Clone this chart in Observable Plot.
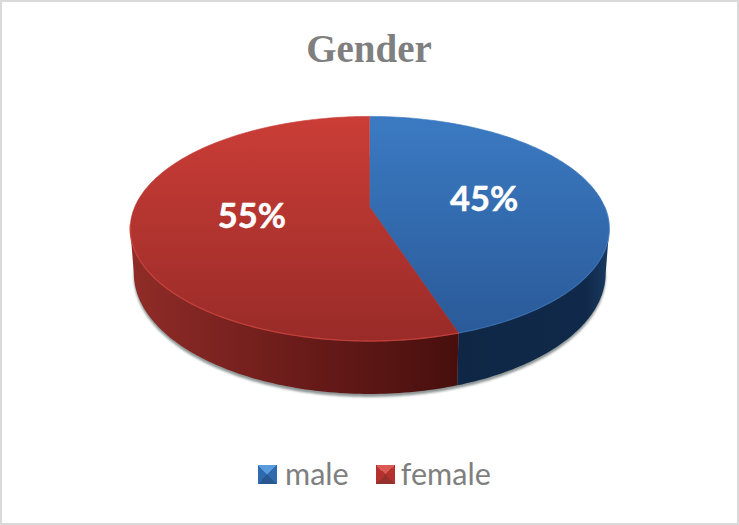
<!DOCTYPE html>
<html>
<head>
<meta charset="utf-8">
<script src="https://cdn.jsdelivr.net/npm/d3@7"></script>
<script src="https://cdn.jsdelivr.net/npm/@observablehq/plot@0.6"></script>
<style>
  html, body { margin: 0; padding: 0; background: #fff; overflow: hidden; }
  #frame { position: relative; width: 739px; height: 525px; box-sizing: border-box; border: 2.5px solid #d9d9d9; background: #fff; }
  #title { position: absolute; left: 0; right: 0; top: 23px; height: 48px; text-align: center;
           font: bold 39px/48px "Liberation Serif", serif; color: #7f7f7f; margin-left: -1px; }
  #chart { position: absolute; left: -2.5px; top: 92.5px; }
  #chart svg { display: block; overflow: visible; }
  #legend { position: absolute; top: 454px; left: 256px; display: flex; align-items: center; font: 30.6px/36px Lato, sans-serif; color: #7f7f7f; }
  #legend .key { width: 19px; height: 19px; display: inline-block; margin-right: 8px; }
  #legend .item { display: flex; align-items: center; margin-right: 27px; }
  #legend .item:last-child .key { margin-right: 6px; }
</style>
</head>
<body>
<div id="frame">
  <div id="title"></div>
  <div id="chart"></div>
  <div id="legend"></div>
</div>
<script>
const titleText = "Gender";
const categories = ["male", "female"];
const shares = [45, 55];
const topLight = ["#3b7ac2", "#cb3d37"];
const topDark = ["#2a5a99", "#992b28"];
const wallStops = [["#0f2745", "#10294a", "#1a3b62"], ["#902c28", "#6b1c1a", "#470f0d"]];
const rimColors = ["#3d7dc4", "#c9423c"];
const rimOpacity = [0.45, 0.8];
const keyColors = [["#5b9bdc", "#2f6aae", "#28588f"], ["#dc5a55", "#b5312d", "#96302c"]];

// Perspective of the disc: k is foreshortening, depth is the wall's height in y units.
const k = 0.191, depth = 0.396, baseScale = 0.985, labelRadius = 0.5, step = Math.PI / 180;
const topPoint = (t, r = 1) => {
  const X = r * Math.sin(t), Z = r * Math.cos(t), w = 1 + k * Z;
  return { x: X / w, y: Z / w };
};
const basePoint = (t) => {
  const X = Math.sin(t), Z = Math.cos(t), w = 1 + k * Z;
  return { x: baseScale * X / w, y: (Z - depth) / w };
};
const arc = (fn, a, b) => {
  const n = Math.max(2, Math.ceil(Math.abs(b - a) / step));
  return d3.range(n + 1).map((i) => fn(a + (b - a) * i / n));
};

const slices = d3.pie().sort(null)(shares);
const tangent = Math.acos(-k);
const wallStart = tangent, wallEnd = 2 * Math.PI - tangent;

const faces = slices.map((s) => [{ x: 0, y: 0 }, ...arc(topPoint, s.startAngle, s.endAngle)]);
const walls = slices.map((s) => {
  const a = Math.max(s.startAngle, wallStart), b = Math.min(s.endAngle, wallEnd);
  return [...arc(topPoint, a, b), ...arc(basePoint, b, a)];
});
const rims = slices.map((s, i) =>
  i === 0 ? arc(topPoint, Math.max(s.startAngle, Math.PI / 2), s.endAngle)
          : arc(topPoint, s.startAngle, Math.min(s.endAngle, 1.45 * Math.PI)));
const shadow = arc(basePoint, 0, 2 * Math.PI);
const labels = slices.map((s, i) => ({ ...topPoint((s.startAngle + s.endAngle) / 2, labelRadius), text: `${shares[i]}%` }));

const defs = () => {
  const d = d3.create("svg:defs");
  d.append("filter").attr("id", "soft").attr("x", "-5%").attr("y", "-10%").attr("width", "110%").attr("height", "120%")
    .append("feGaussianBlur").attr("stdDeviation", 1.3);
  d.append("filter").attr("id", "rim").attr("x", "-5%").attr("y", "-10%").attr("width", "110%").attr("height", "120%")
    .append("feGaussianBlur").attr("stdDeviation", 0.6);
  categories.forEach((_, i) => {
    const f = d.append("linearGradient").attr("id", `face${i}`).attr("x1", 0).attr("y1", 0).attr("x2", 0).attr("y2", 1);
    f.append("stop").attr("offset", "0%").attr("stop-color", topLight[i]);
    f.append("stop").attr("offset", "100%").attr("stop-color", topDark[i]);
    const w = d.append("linearGradient").attr("id", `wall${i}`).attr("x1", 0).attr("y1", 0).attr("x2", 1).attr("y2", 0);
    wallStops[i].forEach((c, j) => w.append("stop").attr("offset", i === 0 ? [0, 0.85, 1][j] : [0, 0.5, 1][j]).attr("stop-color", c));
  });
  return d.node();
};

// Applies an SVG filter to the group that a mark renders.
const filtered = (id) => (index, scales, values, dimensions, context, next) => {
  const g = next(index, scales, values, dimensions, context);
  g.setAttribute("filter", `url(#${id})`);
  return g;
};

const line = (pts, o) => Plot.line(pts, { x: "x", y: "y", curve: "linear", ...o });

const plot = Plot.plot({
  width: 739,
  height: 320,
  margin: 0,
  style: { background: "transparent", overflow: "visible" },
  x: { domain: [-1, 1], range: [370 - 235.6, 370 + 235.6], axis: null },
  y: { domain: [-1, 1], range: [112 + 108.4, 112 - 108.4], axis: null },
  marks: [
    defs,
    line(shadow, { fill: "#6a7474", stroke: "none", fillOpacity: 0.75, dy: 3, render: filtered("soft") }),
    ...walls.map((w, i) => line(w, { fill: `url(#wall${i})`, stroke: "none" })),
    ...faces.map((f, i) => line(f, { fill: `url(#face${i})`, stroke: `url(#face${i})`, strokeWidth: 0.6 })),
    ...rims.map((r, i) => line(r, { stroke: rimColors[i], strokeWidth: 1.4, strokeOpacity: rimOpacity[i], render: filtered("rim") })),
    Plot.text(labels, { x: "x", y: "y", text: "text", fill: "white", stroke: "white", strokeWidth: 0.5, fontSize: 34.5, fontWeight: 700, fontFamily: "Lato, sans-serif", dy: 1.5 })
  ]
});
document.getElementById("chart").append(plot);
document.getElementById("title").textContent = titleText;

const legend = d3.select("#legend");
categories.forEach((c, i) => {
  const [l, m, b] = keyColors[i];
  const item = legend.append("span").attr("class", "item");
  item.append("span").attr("class", "key")
    .style("background", `conic-gradient(from -45deg, ${l} 0 90deg, ${m} 90deg 180deg, ${b} 180deg 270deg, ${m} 270deg 360deg)`);
  item.append("span").text(c);
});
</script>
</body>
</html>
